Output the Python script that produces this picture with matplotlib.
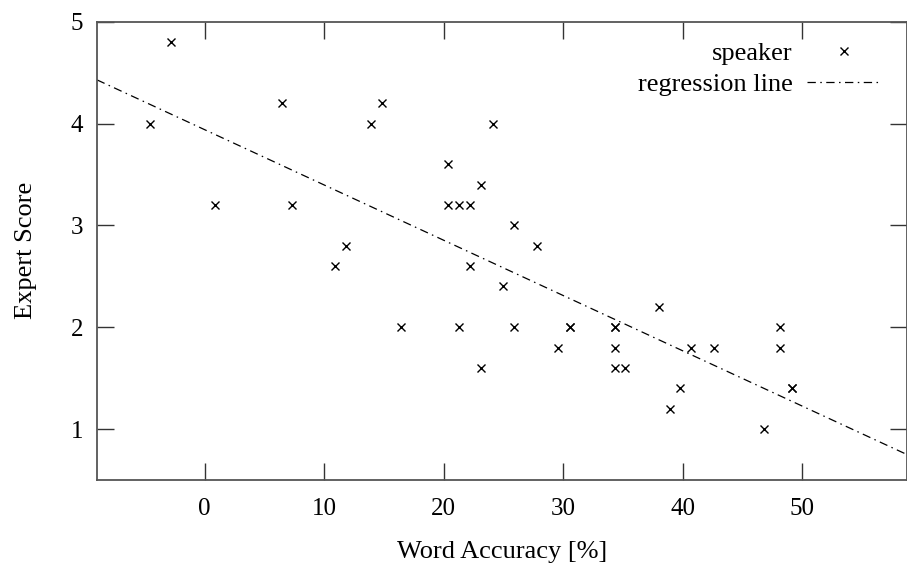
import matplotlib
matplotlib.use("Agg")
import matplotlib.pyplot as plt
import numpy as np

plt.rcParams['font.family'] = ['Liberation Serif', 'DejaVu Serif']
plt.rcParams['lines.scale_dashes'] = False

# Data
word_accuracy = [-4.6, -2.8, 0.9, 6.5, 7.3, 10.9, 11.8, 13.9, 14.8, 16.4,
                 20.4, 20.4, 21.3, 21.3, 22.2, 22.2, 23.1, 23.1, 24.1, 25.0,
                 25.9, 25.9, 27.8, 29.6, 30.6, 30.6, 34.3, 34.3, 34.3, 34.3,
                 35.2, 38.0, 38.9, 39.8, 40.7, 42.6, 46.8, 48.1, 48.1, 49.1,
                 49.1]
expert_score = [4.0, 4.8, 3.2, 4.2, 3.2, 2.6, 2.8, 4.0, 4.2, 2.0,
                3.6, 3.2, 3.2, 2.0, 3.2, 2.6, 3.4, 1.6, 4.0, 2.4,
                3.0, 2.0, 2.8, 1.8, 2.0, 2.0, 2.0, 2.0, 1.8, 1.6,
                1.6, 2.2, 1.2, 1.4, 1.8, 1.8, 1.0, 2.0, 1.8, 1.4,
                1.4]

# Regression line parameters
reg_intercept = 3.94
reg_slope = -0.0543

x_ticks = [0, 10, 20, 30, 40, 50]
y_ticks = [1, 2, 3, 4, 5]
x_range = (-9.0, 58.75)
y_range = (0.5, 5.0)

fig = plt.figure(figsize=(9.07, 5.67), dpi=100)
ax = fig.add_axes([97/907, 1 - 480/567, 1 - 97/907, (480 - 21.7)/567])

ax.set_xlim(*x_range)
ax.set_ylim(*y_range)

ax.plot(word_accuracy, expert_score, linestyle='none', marker='x',
        markersize=6, markeredgewidth=1.0, color='black', label='speaker',
        clip_on=False, zorder=3)

xl = np.array(x_range)
ax.plot(xl, reg_intercept + reg_slope * xl, color='black', linewidth=0.9,
        dashes=(6, 3.2, 1.1, 3.2), label='regression line', zorder=2)

ax.set_xticks(x_ticks)
ax.set_yticks(y_ticks)
ax.set_xticklabels([str(t) for t in x_ticks])
ax.set_yticklabels([str(t) for t in y_ticks])
ax.tick_params(direction='in', length=12, width=1.0, color='#333333',
               labelsize=18, top=True, right=True, pad=13)
ax.tick_params(axis='y', pad=10)
for s in ax.spines.values():
    s.set_color('#555555')
    s.set_linewidth(1.3)

ax.set_xlabel('Word Accuracy [%]', fontsize=19, labelpad=15)
ax.set_ylabel('Expert Score', fontsize=19, labelpad=24)

leg = ax.legend(loc='upper right', bbox_to_anchor=(880/907, 1 - 42/567),
                bbox_transform=fig.transFigure, frameon=False, fontsize=19,
                markerfirst=False, handlelength=2.75, handletextpad=0.55,
                borderpad=0, borderaxespad=0, labelspacing=0.27)

fig.savefig('out.png', dpi=100)
